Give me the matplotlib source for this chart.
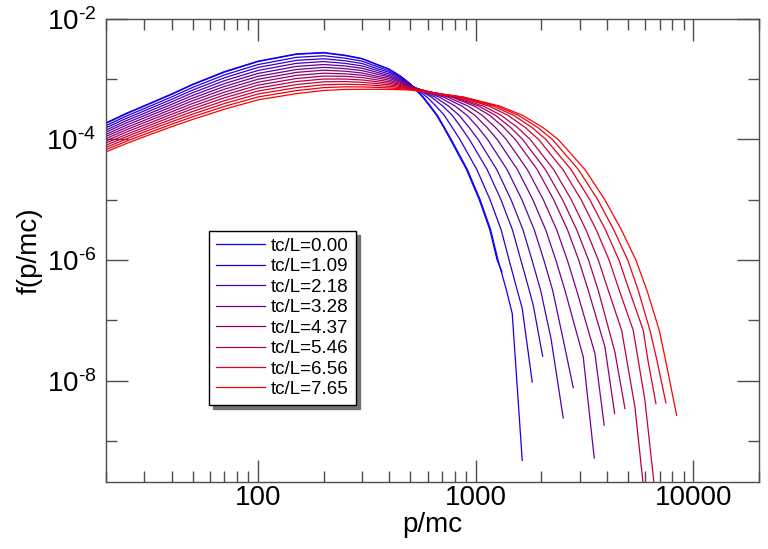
import matplotlib
matplotlib.use('Agg')
import numpy as np
import matplotlib.ticker as ticker
from matplotlib import pyplot as plt
from matplotlib import font_manager

# font: narrow helvetica look if we have it
names = set(f.name for f in font_manager.fontManager.ttflist)
main_font = 'Liberation Sans Narrow' if 'Liberation Sans Narrow' in names else 'Liberation Sans'
plt.rcParams['font.family'] = [main_font, 'DejaVu Sans']
plt.rcParams['mathtext.fontset'] = 'custom'
plt.rcParams['mathtext.rm'] = main_font
plt.rcParams['axes.unicode_minus'] = False

# ---- data ----
legend_t = [0.00, 1.09, 2.18, 3.28, 4.37, 5.46, 6.56, 7.65]
legend_idx = [0, 2, 4, 6, 8, 10, 12, 14]

# low-momentum part, common grid
p_body = [20, 25, 30, 40, 50, 70, 100, 150, 200, 250, 300, 350, 400, 450, 500]
f_body = [
    [1.88e-4, 2.74e-4, 3.62e-4, 5.66e-4, 8.18e-4, 1.33e-3, 1.98e-3, 2.61e-3, 2.75e-3, 2.49e-3, 2.19e-3, 1.76e-3, 1.46e-3, 1.12e-3, 8.30e-4],
    [1.84e-4, 2.69e-4, 3.55e-4, 5.55e-4, 8.04e-4, 1.30e-3, 1.95e-3, 2.57e-3, 2.71e-3, 2.45e-3, 2.16e-3, 1.74e-3, 1.45e-3, 1.12e-3, 8.32e-4],
    [1.69e-4, 2.47e-4, 3.24e-4, 5.05e-4, 7.26e-4, 1.17e-3, 1.74e-3, 2.29e-3, 2.43e-3, 2.22e-3, 1.98e-3, 1.62e-3, 1.36e-3, 1.08e-3, 8.17e-4],
    [1.56e-4, 2.26e-4, 2.97e-4, 4.59e-4, 6.56e-4, 1.05e-3, 1.56e-3, 2.04e-3, 2.17e-3, 2.01e-3, 1.81e-3, 1.50e-3, 1.29e-3, 1.04e-3, 8.02e-4],
    [1.43e-4, 2.07e-4, 2.71e-4, 4.18e-4, 5.93e-4, 9.40e-4, 1.39e-3, 1.82e-3, 1.95e-3, 1.82e-3, 1.65e-3, 1.40e-3, 1.21e-3, 9.95e-4, 7.87e-4],
    [1.32e-4, 1.90e-4, 2.48e-4, 3.80e-4, 5.35e-4, 8.41e-4, 1.24e-3, 1.62e-3, 1.74e-3, 1.65e-3, 1.51e-3, 1.30e-3, 1.14e-3, 9.55e-4, 7.74e-4],
    [1.21e-4, 1.74e-4, 2.27e-4, 3.46e-4, 4.83e-4, 7.55e-4, 1.11e-3, 1.44e-3, 1.56e-3, 1.49e-3, 1.38e-3, 1.21e-3, 1.08e-3, 9.18e-4, 7.60e-4],
    [1.12e-4, 1.59e-4, 2.07e-4, 3.15e-4, 4.37e-4, 6.78e-4, 9.93e-4, 1.29e-3, 1.40e-3, 1.35e-3, 1.26e-3, 1.12e-3, 1.02e-3, 8.83e-4, 7.46e-4],
    [1.03e-4, 1.46e-4, 1.90e-4, 2.86e-4, 3.94e-4, 6.07e-4, 8.87e-4, 1.15e-3, 1.25e-3, 1.22e-3, 1.16e-3, 1.05e-3, 9.58e-4, 8.47e-4, 7.33e-4],
    [9.44e-5, 1.34e-4, 1.73e-4, 2.60e-4, 3.56e-4, 5.45e-4, 7.93e-4, 1.02e-3, 1.12e-3, 1.11e-3, 1.06e-3, 9.72e-4, 9.03e-4, 8.15e-4, 7.19e-4],
    [8.69e-5, 1.22e-4, 1.58e-4, 2.37e-4, 3.22e-4, 4.89e-4, 7.08e-4, 9.10e-4, 1.00e-3, 1.00e-3, 9.66e-4, 9.04e-4, 8.51e-4, 7.83e-4, 7.06e-4],
    [8.00e-5, 1.12e-4, 1.45e-4, 2.15e-4, 2.90e-4, 4.38e-4, 6.33e-4, 8.10e-4, 8.99e-4, 9.08e-4, 8.83e-4, 8.41e-4, 8.03e-4, 7.52e-4, 6.95e-4],
    [7.35e-5, 1.03e-4, 1.33e-4, 1.96e-4, 2.62e-4, 3.93e-4, 5.66e-4, 7.21e-4, 8.05e-4, 8.20e-4, 8.09e-4, 7.82e-4, 7.57e-4, 7.23e-4, 6.82e-4],
    [6.76e-5, 9.42e-5, 1.21e-4, 1.78e-4, 2.37e-4, 3.52e-4, 5.06e-4, 6.43e-4, 7.21e-4, 7.43e-4, 7.40e-4, 7.28e-4, 7.13e-4, 6.93e-4, 6.70e-4],
    [6.22e-5, 8.63e-5, 1.11e-4, 1.62e-4, 2.14e-4, 3.16e-4, 4.52e-4, 5.73e-4, 6.46e-4, 6.73e-4, 6.76e-4, 6.76e-4, 6.73e-4, 6.67e-4, 6.58e-4],
]

# high-momentum tail: p where each curve crosses these f levels
f_levels = [5.01e-4, 3.55e-4, 2.51e-4, 1.58e-4, 1.00e-4, 3.16e-5, 1.00e-5, 3.16e-6, 1.00e-6, 3.16e-7, 6.88e-8]
p_tail = [
    [570, 614, 660, 712, 763, 906, 1037, 1160, 1253],
    [575, 619, 666, 717, 771, 915, 1047, 1171, 1265, 1383],
    [597, 657, 716, 779, 845, 1011, 1163, 1308, 1422, 1550],
    [626, 706, 779, 856, 934, 1128, 1305, 1474, 1610, 1760],
    [650, 751, 838, 932, 1024, 1248, 1452, 1648, 1812, 1985],
    [681, 805, 911, 1024, 1132, 1392, 1629, 1857, 2054, 2254],
    [713, 865, 990, 1125, 1253, 1554, 1828, 2095, 2332, 2567],
    [744, 923, 1070, 1230, 1380, 1725, 2043, 2354, 2633, 2905],
    [776, 986, 1158, 1344, 1518, 1915, 2280, 2639, 2971, 3285],
    [795, 1034, 1230, 1444, 1641, 2089, 2503, 2911, 3295, 3651],
    [815, 1085, 1307, 1552, 1777, 2280, 2747, 3209, 3655, 4058, 4677],
    [844, 1152, 1403, 1685, 1942, 2513, 3047, 3578, 4097, 4559, 5287],
    [864, 1206, 1491, 1809, 2098, 2741, 3340, 3944, 4545, 5068, 5877],
    [877, 1255, 1568, 1923, 2247, 2961, 3632, 4306, 4988, 5574, 6308],
    [883, 1294, 1638, 2030, 2389, 3175, 3915, 4666, 5440, 6111, 6960],
]

# last kink and last point of each curve
p_kink = [None, 1470, 1634, 1836, 2214, 2513, 3116, 3526, 3919, 4357, 5382, 5983, 6176, 6793, 7392]
f_kink = [None, 1.30e-7, 1.58e-7, 1.79e-7, 5.07e-8, 5.07e-8, 2.48e-8, 2.82e-8, 3.64e-8, 2.97e-8,
          3.68e-9, 4.75e-9, 2.19e-8, 2.19e-8, 2.48e-8]
p_end = [1319, 1634, 1816, 2028, 2521, 2803, 3500, 3890, 4343, 4843, 5983, 6722, 6722, 7471, 8366]
f_end = [6.37e-7, 4.79e-10, 9.55e-9, 2.55e-8, 2.42e-9, 7.71e-9, 5.25e-10, 1.83e-9, 2.86e-9, 3.46e-9,
         1.04e-10, 1.04e-10, 4.19e-9, 4.29e-9, 2.68e-9]

# ---- plot ----
fig = plt.figure(figsize=(7.68, 5.49), dpi=100)
ax = fig.add_axes([106 / 768., 1 - 482 / 549., 653 / 768., 463.3 / 549.])

n = len(f_body)
lines = []
for k in range(n):
    pk = list(p_body) + p_tail[k]
    fk = list(f_body[k]) + f_levels[:len(p_tail[k])]
    if p_kink[k] is not None:
        pk.append(p_kink[k])
        fk.append(f_kink[k])
    pk.append(p_end[k])
    fk.append(f_end[k])
    c = (k / (n - 1.), 0.0, 1 - k / (n - 1.))
    line, = ax.plot(pk, fk, color=c, lw=0.9)
    lines.append(line)

ax.set_xscale('log')
ax.set_yscale('log')
ax.set_xlim(20, 20000)
ax.set_ylim(2.1e-10, 1e-2)

ax.xaxis.set_major_locator(ticker.FixedLocator([100, 1000, 10000]))
ax.xaxis.set_minor_locator(ticker.LogLocator(base=10, subs=range(2, 10), numticks=20))
ax.xaxis.set_major_formatter(ticker.FuncFormatter(lambda v, pos: '%d' % v))
ax.xaxis.set_minor_formatter(ticker.NullFormatter())
ax.yaxis.set_major_locator(ticker.FixedLocator([1e-2, 1e-4, 1e-6, 1e-8]))
ax.yaxis.set_minor_locator(ticker.FixedLocator([1e-3, 1e-5, 1e-7, 1e-9]))
ax.yaxis.set_major_formatter(ticker.FuncFormatter(
    lambda v, pos: '$\\mathdefault{10^{\u2010%d}}$' % abs(int(round(np.log10(v))))))
ax.yaxis.set_minor_formatter(ticker.NullFormatter())

ax.tick_params(which='both', direction='in', top=True, right=True, width=1, color='0.3')
ax.tick_params(which='major', length=16)
ax.tick_params(which='minor', length=8)
ax.tick_params(axis='both', labelsize=20)
ax.tick_params(axis='x', pad=2.5)
ax.tick_params(axis='y', pad=7)
for s in ax.spines.values():
    s.set_color('0.3')
    s.set_linewidth(1)

ax.set_xlabel('p/mc', fontsize=20, labelpad=0.5)
ax.set_ylabel('f(p/mc)', fontsize=20)
ax.yaxis.set_label_coords(-0.097, 0.5)

labels = ['tc/L=%.2f' % t for t in legend_t]
leg = ax.legend([lines[i] for i in legend_idx], labels, loc='upper left',
                bbox_to_anchor=(0.158, 0.542), borderaxespad=0, fontsize=13.5,
                fancybox=False, framealpha=1, edgecolor='black',
                shadow={'ox': 3, 'oy': -3, 'color': '0.45', 'alpha': 1},
                handlelength=2.6, handletextpad=0.33, labelspacing=0.176, borderpad=0.37)
leg.get_frame().set_linewidth(1)

fig.savefig('out.png', dpi=100)
